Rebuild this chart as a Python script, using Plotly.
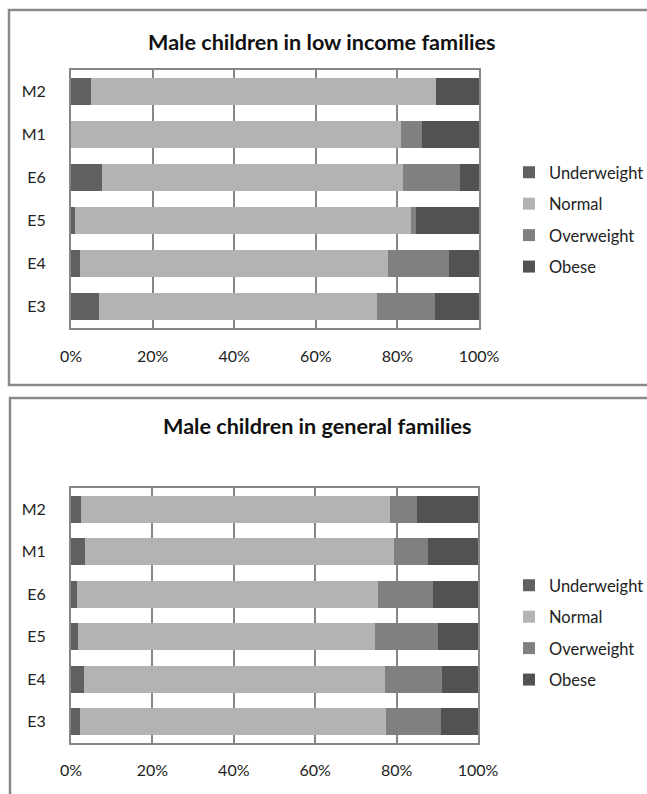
import plotly.graph_objects as go

# Percentage shares of weight status by age group
groups = ["E3", "E4", "E5", "E6", "M1", "M2"]
statuses = ["Underweight", "Normal", "Overweight", "Obese"]
colors = ["#606060", "#b3b3b3", "#808080", "#525252"]

low_underweight = [6.9, 2.2, 1.0, 7.6, 0.0, 4.9]
low_normal = [68.0, 75.5, 82.3, 73.7, 81.0, 84.6]
low_overweight = [14.2, 14.9, 1.2, 14.1, 5.0, 0.0]
low_obese = [10.9, 7.4, 15.5, 4.6, 14.0, 10.5]

gen_underweight = [2.1, 3.1, 1.7, 1.5, 3.4, 2.4]
gen_normal = [75.3, 74.0, 73.0, 73.9, 76.0, 76.0]
gen_overweight = [13.4, 14.0, 15.4, 13.5, 8.2, 6.5]
gen_obese = [9.2, 8.9, 9.9, 11.1, 12.4, 15.1]

x_ticks = [0, 20, 40, 60, 80, 100]
x_tick_text = ["0%", "20%", "40%", "60%", "80%", "100%"]

titles = ["Male children in low income families", "Male children in general families"]

W, H = 647, 794
FONT = "Lato, 'Open Sans', sans-serif"
EDGE = "#868686"
TXT = 16


def px_x(v):
    return v / W


def px_y(v):
    return 1 - v / H


fig = go.Figure()

panels = [
    ([low_underweight, low_normal, low_overweight, low_obese], "x", "y", "legend"),
    ([gen_underweight, gen_normal, gen_overweight, gen_obese], "x2", "y2", "legend2"),
]

for series, xa, ya, lg in panels:
    for name, vals, col in zip(statuses, series, colors):
        fig.add_trace(go.Bar(
            y=groups, x=vals, name=name, orientation="h",
            marker=dict(color=col, line=dict(width=0)),
            xaxis=xa, yaxis=ya, legend=lg, legendgroup=lg + name,
            hoverinfo="skip",
        ))

axis_common = dict(
    showline=True, linecolor=EDGE, linewidth=2, mirror=True,
    tickfont=dict(family=FONT, size=TXT, color="#222"),
    ticks="", fixedrange=True, automargin=False,
)

legend_common = dict(
    xanchor="left", yanchor="top",
    traceorder="grouped", tracegroupgap=7,
    font=dict(family=FONT, size=16.5, color="#222"),
    itemwidth=30, bgcolor="rgba(0,0,0,0)",
)

fig.update_layout(
    width=W, height=H,
    margin=dict(l=0, r=0, t=0, b=0, autoexpand=False),
    paper_bgcolor="white", plot_bgcolor="white",
    barmode="stack", bargap=0.37,
    showlegend=True,
    font=dict(family=FONT, color="#222"),
    xaxis=dict(domain=[px_x(71), px_x(479)], anchor="y", range=[0, 100],
               tickvals=x_ticks, ticktext=x_tick_text, showgrid=True,
               gridcolor=EDGE, gridwidth=2, zeroline=False,
               ticklabelstandoff=13, **axis_common),
    yaxis=dict(domain=[px_y(328), px_y(70)], anchor="x", showgrid=False,
               categoryorder="array", categoryarray=groups,
               ticklabelstandoff=20, **axis_common),
    xaxis2=dict(domain=[px_x(71), px_x(478)], anchor="y2", range=[0, 100],
                tickvals=x_ticks, ticktext=x_tick_text, showgrid=True,
                gridcolor=EDGE, gridwidth=2, zeroline=False,
                ticklabelstandoff=12, **axis_common),
    yaxis2=dict(domain=[px_y(743), px_y(488)], anchor="x2", showgrid=False,
                categoryorder="array", categoryarray=groups,
                ticklabelstandoff=20, **axis_common),
    legend=dict(x=px_x(509), y=px_y(155), **legend_common),
    legend2=dict(x=px_x(509), y=px_y(568), **legend_common),
)

# Chart titles
for text, cx, cy in [(titles[0], 322, 42), (titles[1], 317, 426)]:
    fig.add_annotation(
        text="<b>" + text + "</b>", x=px_x(cx), y=px_y(cy),
        xref="paper", yref="paper", showarrow=False,
        xanchor="center", yanchor="middle",
        font=dict(family=FONT, size=21.6, color="#111"),
    )

# Chart-area frames around each panel
for x0, y0, x1, y1 in [(9, 10, 652, 385), (10, 398, 652, 805)]:
    fig.add_shape(
        type="rect", xref="paper", yref="paper",
        x0=px_x(x0), x1=px_x(x1), y0=px_y(y1), y1=px_y(y0),
        line=dict(color="#8a8a8a", width=2.5), fillcolor="rgba(0,0,0,0)",
        layer="below",
    )

fig.write_html("out.html")
